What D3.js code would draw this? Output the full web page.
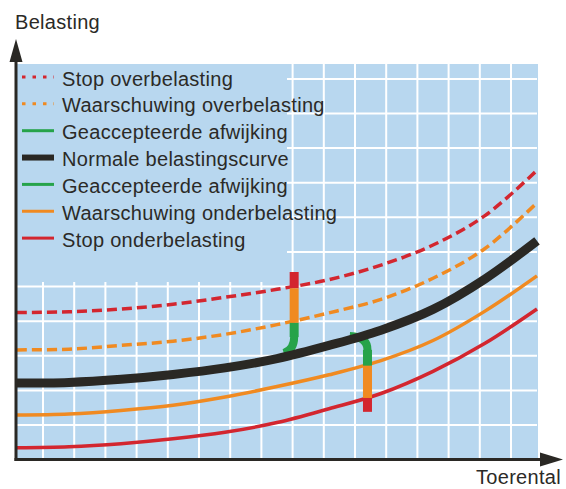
<!DOCTYPE html>
<html>
<head>
<meta charset="utf-8">
<script src="https://cdn.jsdelivr.net/npm/d3@7"></script>
<style>
  body { margin: 0; background: #fff; }
  text { font-family: "Liberation Sans", Arial, sans-serif; fill: #2b2a27; }
</style>
</head>
<body>
<div id="container"></div>
<script>
/*** DATA ***/
// toerental (0-100) and belasting (grid units)
const toerental = [0, 10, 20, 30, 40, 50, 60, 70, 80, 90, 100];
const stopOver   = [4.25, 4.27, 4.35, 4.49, 4.69, 4.92, 5.20, 5.62, 6.20, 7.05, 8.36];
const warnOver   = [3.17, 3.19, 3.30, 3.42, 3.62, 3.90, 4.24, 4.63, 5.24, 6.10, 7.42];
const normal     = [2.21, 2.23, 2.32, 2.46, 2.65, 2.92, 3.30, 3.74, 4.34, 5.22, 6.32];
const warnUnder  = [1.29, 1.32, 1.42, 1.57, 1.81, 2.11, 2.45, 2.86, 3.44, 4.29, 5.31];
const stopUnder  = [0.34, 0.37, 0.46, 0.60, 0.79, 1.07, 1.47, 1.91, 2.55, 3.36, 4.35];

const legendLabels = [
  "Stop overbelasting",
  "Waarschuwing overbelasting",
  "Geaccepteerde afwijking",
  "Normale belastingscurve",
  "Geaccepteerde afwijking",
  "Waarschuwing onderbelasting",
  "Stop onderbelasting"
];

// vertical markers: x position, then segments [from, to, kind]
const markerX = [53.3, 67.4];
const markerSegs = [
  [[4.95, 5.42, "red"], [3.95, 4.95, "orange"], [3.54, 3.95, "green"]],
  [[2.71, 3.17, "green"], [1.78, 2.71, "orange"], [1.38, 1.78, "red"]]
];
// green hooks joining the marker to the normal curve: start, control, end
const hooks = [
  [[53.3, 3.54], [53.3, 3.17], [51.3, 3.08]],
  [[64.0, 3.57], [67.4, 3.54], [67.4, 3.17]]
];

const xGrid = d3.range(5, 100, 6);
const yGrid = d3.range(1, 12);

/*** STYLE ***/
const colors = { red: "#d3262f", orange: "#f08a21", green: "#26a34a", black: "#2a2824", blue: "#b8d7ef" };
const width = 566, height = 489;

const x = d3.scaleLinear().domain([0, 100]).range([17, 537]);
const y = d3.scaleLinear().domain([0, 11.43]).range([459.6, 64]);

const svg = d3.select("#container").append("svg")
  .attr("width", width).attr("height", height);

// plot background
svg.append("rect")
  .attr("x", x(0)).attr("y", y(11.43))
  .attr("width", x(100) - x(0) + 1).attr("height", y(0) - y(11.43))
  .attr("fill", colors.blue);

// grid
svg.selectAll("line.vgrid")
  .data(xGrid)
  .join("line")
  .attr("class", "vgrid")
  .attr("x1", d => x(d)).attr("x2", d => x(d))
  .attr("y1", y(11.43)).attr("y2", y(0))
  .attr("stroke", "#fff").attr("stroke-width", 2);

svg.selectAll("line.hgrid")
  .data(yGrid)
  .join("line")
  .attr("class", "hgrid")
  .attr("x1", x(0)).attr("x2", x(100))
  .attr("y1", d => y(d)).attr("y2", d => y(d))
  .attr("stroke", "#fff").attr("stroke-width", 2);

// legend area covers the grid
svg.append("rect")
  .attr("x", x(0)).attr("y", y(11.43))
  .attr("width", 287 - x(0)).attr("height", 282 - y(11.43))
  .attr("fill", colors.blue);

// curves
const line = d3.line()
  .x((d, i) => x(toerental[i]))
  .y(d => y(d))
  .curve(d3.curveCatmullRom.alpha(0.5));

const curves = [
  { vals: stopOver,  color: colors.red,    w: 3.5, dash: "10 5" },
  { vals: warnOver,  color: colors.orange, w: 3.5, dash: "10 5" },
  { vals: warnUnder, color: colors.orange, w: 3.5, dash: null },
  { vals: stopUnder, color: colors.red,    w: 3.5, dash: null }
];

svg.selectAll("path.curve")
  .data(curves)
  .join("path")
  .attr("class", "curve")
  .attr("d", d => line(d.vals))
  .attr("fill", "none")
  .attr("stroke", d => d.color)
  .attr("stroke-width", d => d.w)
  .attr("stroke-dasharray", d => d.dash);

// green hooks
svg.selectAll("path.hook")
  .data(hooks)
  .join("path")
  .attr("class", "hook")
  .attr("d", d => {
    const p = d3.path();
    p.moveTo(x(d[0][0]), y(d[0][1]));
    p.quadraticCurveTo(x(d[1][0]), y(d[1][1]), x(d[2][0]), y(d[2][1]));
    return p.toString();
  })
  .attr("fill", "none")
  .attr("stroke", colors.green)
  .attr("stroke-width", 8);

// normal curve
svg.append("path")
  .attr("d", line(normal))
  .attr("fill", "none")
  .attr("stroke", colors.black)
  .attr("stroke-width", 9);

// marker bars
markerSegs.forEach((segs, i) => {
  svg.selectAll(null)
    .data(segs)
    .join("rect")
    .attr("x", x(markerX[i]) - 4.5)
    .attr("width", 9)
    .attr("y", d => y(d[1]))
    .attr("height", d => y(d[0]) - y(d[1]))
    .attr("fill", d => colors[d[2]]);
});

// axes
svg.append("line")
  .attr("x1", x(0) - 1).attr("x2", x(0) - 1)
  .attr("y1", y(0) + 1.5).attr("y2", 58)
  .attr("stroke", colors.black).attr("stroke-width", 3);
svg.append("path")
  .attr("d", `M${x(0) - 1},39 L${x(0) - 7.5},62 L${x(0) + 5.5},62 Z`)
  .attr("fill", colors.black);

svg.append("line")
  .attr("x1", x(0) - 2.5).attr("x2", 545)
  .attr("y1", y(0)).attr("y2", y(0))
  .attr("stroke", colors.black).attr("stroke-width", 3);
svg.append("path")
  .attr("d", `M563,${y(0)} L540,${y(0) - 7} L540,${y(0) + 7} Z`)
  .attr("fill", colors.black);

svg.append("text")
  .attr("x", 15).attr("y", 29)
  .style("font-size", "20px")
  .style("letter-spacing", "0.3px")
  .text("Belasting");

svg.append("text")
  .attr("x", 561).attr("y", 484)
  .attr("text-anchor", "end")
  .style("font-size", "20px")
  .style("letter-spacing", "0.3px")
  .text("Toerental");

// legend
const legendStyle = [
  { color: colors.red,    w: 3, dash: "3.5 7" },
  { color: colors.orange, w: 3, dash: "3.5 7" },
  { color: colors.green,  w: 3, dash: null },
  { color: colors.black,  w: 6, dash: null },
  { color: colors.green,  w: 3, dash: null },
  { color: colors.orange, w: 3, dash: null },
  { color: colors.red,    w: 3, dash: null }
];

const legend = svg.selectAll("g.legend")
  .data(legendLabels)
  .join("g")
  .attr("class", "legend")
  .attr("transform", (d, i) => `translate(22, ${77 + i * 26.85})`);

legend.append("line")
  .attr("x1", 0).attr("x2", 32)
  .attr("stroke", (d, i) => legendStyle[i].color)
  .attr("stroke-width", (d, i) => legendStyle[i].w)
  .attr("stroke-dasharray", (d, i) => legendStyle[i].dash);

legend.append("text")
  .attr("x", 40).attr("y", 8.5)
  .style("font-size", "20px")
  .style("letter-spacing", "0.3px")
  .text(d => d);
</script>
</body>
</html>
